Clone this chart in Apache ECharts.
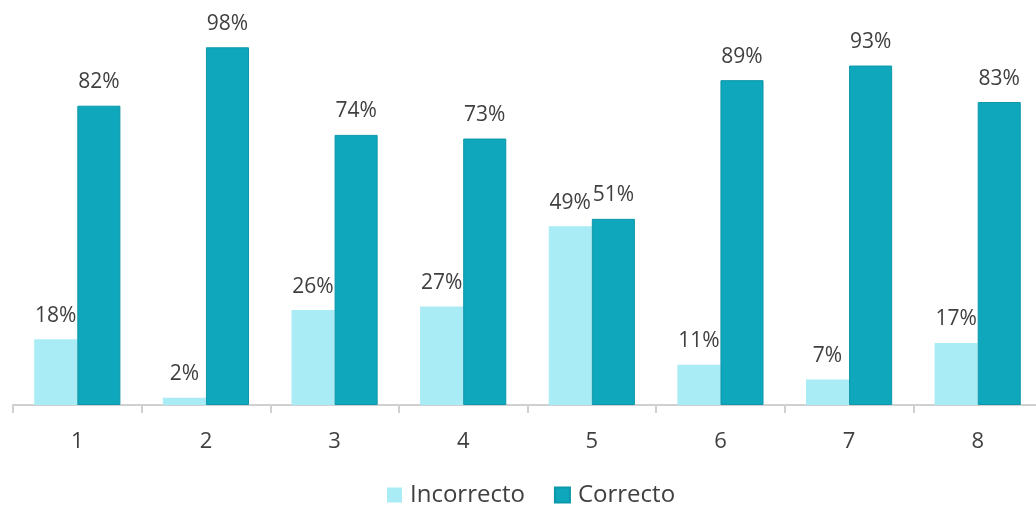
<!DOCTYPE html>
<html>
<head>
<meta charset="utf-8">
<script src="https://cdn.jsdelivr.net/npm/echarts@6/dist/echarts.min.js"></script>
<style>
  html, body { margin: 0; padding: 0; background: #ffffff; overflow: hidden; }
  /* canvas is a little wider than the window so the last category runs past the right edge */
  #chart { width: 1042px; height: 506px; }
</style>
</head>
<body>
<div id="chart"></div>
<script>
// Categories and percentage values per series
const categories = ['1', '2', '3', '4', '5', '6', '7', '8'];
const incorrecto = [18, 2, 26, 27, 49, 11, 7, 17];
const correcto = [82, 98, 74, 73, 51, 89, 93, 83];

const chart = echarts.init(document.getElementById('chart'), null, { renderer: 'canvas' });

const labelStyle = {
  show: true,
  position: 'top',
  distance: 13,
  formatter: p => p.value + '%',
  color: '#404040',
  fontFamily: 'Open Sans',
  fontSize: 21
};

chart.setOption({
  animation: false,
  grid: { left: 13, right: 0, top: 40, bottom: 101, containLabel: false },
  legend: {
    top: 478,
    left: 382,
    itemWidth: 15,
    itemHeight: 15,
    itemGap: 29,
    icon: 'rect',
    textStyle: { color: '#404040', fontFamily: 'Open Sans', fontSize: 24, padding: [0, 0, 0, 3] },
    data: ['Incorrecto', 'Correcto']
  },
  xAxis: {
    type: 'category',
    data: categories,
    axisLine: { lineStyle: { color: '#d0d0d0', width: 2 } },
    axisTick: { show: true, length: 8, lineStyle: { color: '#d0d0d0', width: 2 } },
    axisLabel: { color: '#404040', fontFamily: 'Open Sans', fontSize: 22, margin: 26 }
  },
  yAxis: {
    type: 'value',
    min: 0,
    max: 100,
    show: false,
    splitLine: { show: false }
  },
  series: [
    {
      name: 'Incorrecto',
      type: 'bar',
      data: incorrecto,
      barGap: '0%',
      barCategoryGap: '33%',
      itemStyle: { color: '#a9ecf5' },
      label: labelStyle
    },
    {
      name: 'Correcto',
      type: 'bar',
      data: correcto,
      barGap: '0%',
      barCategoryGap: '33%',
      itemStyle: { color: '#0fa7bc', borderColor: '#0d97aa', borderWidth: 1 },
      label: labelStyle
    }
  ]
});
</script>
</body>
</html>
